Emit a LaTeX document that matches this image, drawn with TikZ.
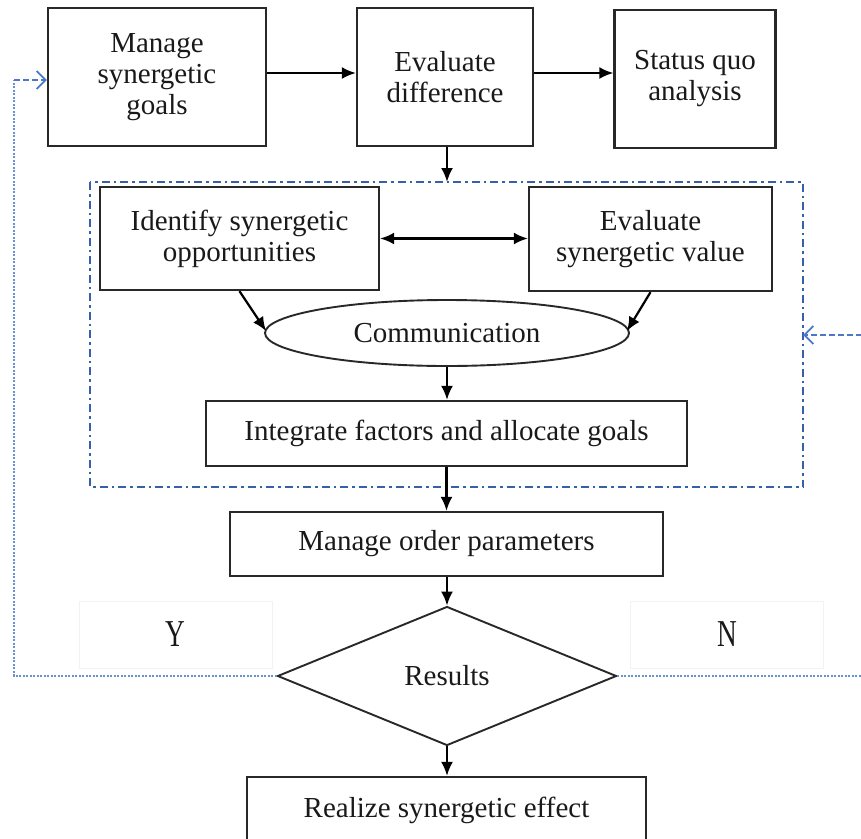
\documentclass[tikz,border=0pt]{standalone}
\usepackage{fontspec}
\setmainfont{Liberation Serif}
\usetikzlibrary{arrows.meta,shapes.geometric}
\definecolor{boxline}{RGB}{40,40,40}
\definecolor{loopblue}{RGB}{105,145,215}
\definecolor{arrowblue}{RGB}{75,120,205}
\definecolor{groupblue}{RGB}{55,95,170}
\tikzset{
  every node/.style={font=\fontsize{29}{31}\selectfont, text=black!90},
  procbox/.style={draw=boxline, line width=2.3pt, align=center, inner sep=0pt},
  flow/.style={draw=black, line width=2.2pt, -{Latex[length=14pt,width=12pt]}},
  flowboth/.style={draw=black, line width=2.2pt, {Latex[length=14pt,width=12pt]}-{Latex[length=14pt,width=12pt]}},
  loopline/.style={draw=loopblue, line width=2pt, dash pattern=on 2pt off 1.5pt},
  looparrow/.style={draw=arrowblue, line width=1.8pt, dash pattern=on 6pt off 3pt, -{Straight Barb[length=9pt,width=18pt,line width=1.8pt]}},
  groupframe/.style={draw=groupblue, line width=2.2pt, dash pattern=on 8pt off 4pt on 2.5pt off 4pt},
  labelbox/.style={draw=black!5, line width=0.8pt, minimum width=193pt, minimum height=67pt, inner sep=0pt}
}
\begin{document}
\begin{tikzpicture}[x=1pt,y=-1pt]
\useasboundingbox (0,0) rectangle (861,838);
\clip (0,0) rectangle (861,838);

% top row
\node[procbox, minimum width=218pt, minimum height=138pt] (goals) at (157,77) {Manage\\synergetic\\goals};
\node[procbox, minimum width=176pt, minimum height=138pt] (diff) at (445,77) {Evaluate\\difference};
\node[procbox, minimum width=161pt, minimum height=138pt] (quo) at (695,79) {Status quo\\analysis};

% dash-dotted group frame
\draw[groupframe] (90,182) rectangle (803,487);
\coordinate (frametop) at (447,182);
\coordinate (frameright) at (803,335);

\node[procbox, minimum width=279pt, minimum height=103pt] (ident) at (239.5,238.5) {Identify synergetic\\opportunities};
\node[procbox, minimum width=243pt, minimum height=104pt] (value) at (650.5,239) {Evaluate\\synergetic value};
\node[draw=boxline, line width=1.9pt, ellipse, minimum width=364pt, minimum height=66pt, inner sep=0pt] (comm) at (447,333) {Communication};
\node[procbox, minimum width=481pt, minimum height=65pt] (integ) at (446.5,433.5) {Integrate factors and allocate goals};

% lower part
\node[procbox, minimum width=433pt, minimum height=64pt] (order) at (446.5,544) {Manage order parameters};
\node[draw=boxline, line width=1.9pt, diamond, minimum width=339pt, minimum height=139pt, inner sep=0pt] (res) at (447,676) {Results};
\node[procbox, minimum width=399pt, minimum height=66pt] (effect) at (446.5,810) {Realize synergetic effect};

\node[labelbox] (ybox) at (175.5,634.5) {\fontsize{38}{40}\selectfont\scalebox{0.72}[1]{Y}};
\node[labelbox] (nbox) at (727,634.5) {\fontsize{38}{40}\selectfont\scalebox{0.72}[1]{N}};

% main flow
\draw[flow] ([yshift=4pt]goals.east) -- ([yshift=4pt]goals.east -| diff.west);
\draw[flow] ([yshift=4pt]diff.east) -- ([yshift=4pt]diff.east -| quo.west);
\draw[flow] (diff.south -| frametop) -- (frametop);
\draw[flowboth] (ident.east) -- (ident.east -| value.west);
\draw[flow] (ident.south) -- ([xshift=2pt,yshift=2pt]comm.west);
\draw[flow] (value.south) -- ([xshift=-3pt,yshift=2pt]comm.east);
\draw[flow] (comm.south) -- (integ.north -| comm.south);
\draw[flow] (integ.south -| order.north) -- (order.north);
\draw[flow] (order.south -| res.north) -- (res.north);
\draw[flow] (res.south) -- (effect.north -| res.south);

% feedback loops
\coordinate (ycorner) at (14,676);
\coordinate (ytop) at (14,80);
\coordinate (ncorner) at (880,676);
\coordinate (ntop) at (880,335);
\draw[loopline] (res.west) -- (ycorner) -- (ytop);
\draw[looparrow] (ytop) -- (goals.west |- ytop);
\draw[loopline] (res.east) -- (ncorner) -- (ntop);
\draw[looparrow] (ntop) -- (frameright);
\end{tikzpicture}
\end{document}
